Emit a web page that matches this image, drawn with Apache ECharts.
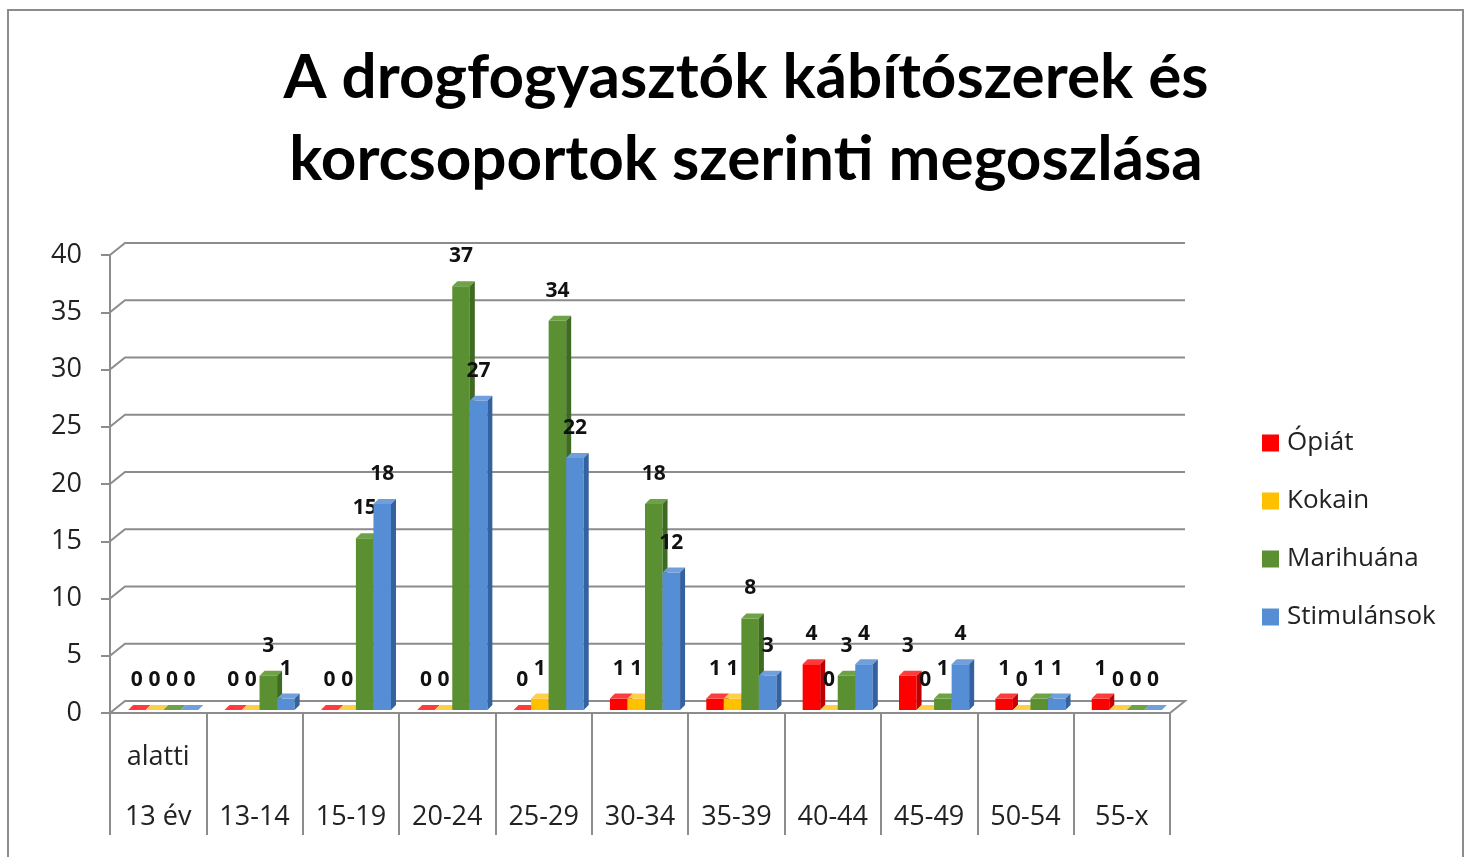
<!DOCTYPE html>
<html>
<head>
<meta charset="utf-8">
<title>Drogfogyasztók korcsoportok szerint</title>
<script src="https://cdn.jsdelivr.net/npm/echarts@6/dist/echarts.min.js"></script>
<style>
html,body{margin:0;padding:0;background:#fff;}
#main{width:1470px;height:857px;}
</style>
</head>
<body>
<div id="main"></div>
<script>
// adatok
var categories=['13 év alatti','13-14','15-19','20-24','25-29','30-34','35-39','40-44','45-49','50-54','55-x'];
var opiat=[0,0,0,0,0,1,1,4,3,1,1];
var kokain=[0,0,0,0,1,1,1,0,0,0,0];
var marihuana=[0,3,15,37,34,18,8,3,1,1,0];
var stimulansok=[0,1,18,27,22,12,3,4,4,1,0];
var yTicks=[0,5,10,15,20,25,30,35,40];

var names=['Ópiát','Kokain','Marihuána','Stimulánsok'];
var values=[opiat,kokain,marihuana,stimulansok];
//szinek: elolap, teteje, oldala
var colors=[
	['#ff0000','#ff3b3b','#c00000'],
	['#ffc000','#ffd047','#c99600'],
	['#5a8f32','#6ea345','#3e6a22'],
	['#558ed5','#6f9fdd','#33629e']
];

var DX=15,DY=-12;   //hatso fal eltolasa
var BDX=5,BDY=-5;   //oszlop melysege

var myChart=echarts.init(document.getElementById('main'));

//racsvonalak a hatso falon
function renderGrid(params,api){
	var v=api.value(0);
	var band=api.size([1,0])[0];
	var p=api.coord([0,v]);
	var left=p[0]-band/2;
	var right=api.coord([categories.length-1,v])[0]+band/2;
	var y=p[1];
	var pts=[[left,y],[left+DX,y+DY],[right+DX,y+DY]];
	if(v==0){
		pts.push([right,y]);
	}
	return {
		type:'polyline',
		shape:{points:pts},
		style:{stroke:'#8c8c8c',lineWidth:2,fill:null}
	};
}

//3D oszlop
function makeBar(k){
	return function(params,api){
		var cat=api.value(0),v=api.value(1);
		var band=api.size([1,0])[0];
		var w=band*0.182;
		var base=api.coord([cat,0]);
		var top=api.coord([cat,v]);
		var x=base[0]+5+(k-2)*w;
		var yb=base[1]-3;
		var yt=top[1]-3;
		var c=colors[k];
		return {
			type:'group',
			children:[
				{type:'rect',shape:{x:x,y:yt,width:w,height:yb-yt},style:{fill:c[0]}},
				{type:'polygon',shape:{points:[[x,yt],[x+BDX,yt+BDY],[x+w+BDX,yt+BDY],[x+w,yt]]},style:{fill:c[1]}},
				{type:'polygon',shape:{points:[[x+w,yt],[x+w+BDX,yt+BDY],[x+w+BDX,yb+BDY],[x+w,yb]]},style:{fill:c[2]}},
				{type:'text',style:{
					text:String(v),x:x+w/2,y:yt-30,align:'center',verticalAlign:'middle',
					fontFamily:'Open Sans',fontWeight:'bold',fontSize:21,fill:'#111'
				}}
			]
		};
	};
}

var series=[{
	type:'custom',
	name:'grid',
	renderItem:renderGrid,
	data:yTicks.map(function(t){return [t];}),
	encode:{y:0},
	clip:false,
	silent:true,
	z:1
}];
for(var i=0;i<names.length;i++){
	series.push({
		type:'custom',
		name:names[i],
		renderItem:makeBar(i),
		itemStyle:{color:colors[i][0]},
		data:values[i].map(function(v,j){return [j,v];}),
		encode:{x:0,y:1},
		clip:false,
		z:3
	});
}

var option={
	animation:false,
	backgroundColor:'#fff',
	title:{
		text:'A drogfogyasztók kábítószerek és\nkorcsoportok szerinti megoszlása',
		left:741,
		top:32,
		textAlign:'center',
		textStyle:{
			fontFamily:'Lato',
			fontWeight:'bold',
			fontSize:62,
			lineHeight:82,
			color:'#000'
		}
	},
	graphic:[{
		type:'rect',
		shape:{x:8,y:10,width:1455,height:880},
		style:{fill:null,stroke:'#8c8c8c',lineWidth:2},
		silent:true
	}],
	legend:{
		orient:'vertical',
		left:1257,
		top:423,
		itemWidth:17,
		itemHeight:17,
		itemGap:28,
		icon:'rect',
		data:names,
		textStyle:{fontFamily:'Open Sans',fontSize:26,color:'#222',lineHeight:30,padding:[0,0,0,3]}
	},
	grid:{left:110,width:1060,top:255,height:458},
	xAxis:{
		type:'category',
		data:categories,
		axisLine:{lineStyle:{color:'#8c8c8c',width:2}},
		axisTick:{show:true,length:122,lineStyle:{color:'#8c8c8c',width:2}},
		axisLabel:{
			margin:14,
			fontFamily:'Open Sans',
			fontSize:27,
			color:'#222',
			lineHeight:60,
			formatter:function(val){
				if(val=='13 év alatti')return 'alatti\n13 év';
				return '\n'+val;
			}
		}
	},
	yAxis:{
		type:'value',
		min:0,
		max:40,
		interval:5,
		axisLine:{show:true,lineStyle:{color:'#8c8c8c',width:2}},
		axisTick:{show:true,length:9,lineStyle:{color:'#8c8c8c',width:2}},
		splitLine:{show:false},
		axisLabel:{margin:28,fontFamily:'Open Sans',fontSize:27,color:'#222'}
	},
	series:series
};

myChart.setOption(option);
</script>
</body>
</html>
